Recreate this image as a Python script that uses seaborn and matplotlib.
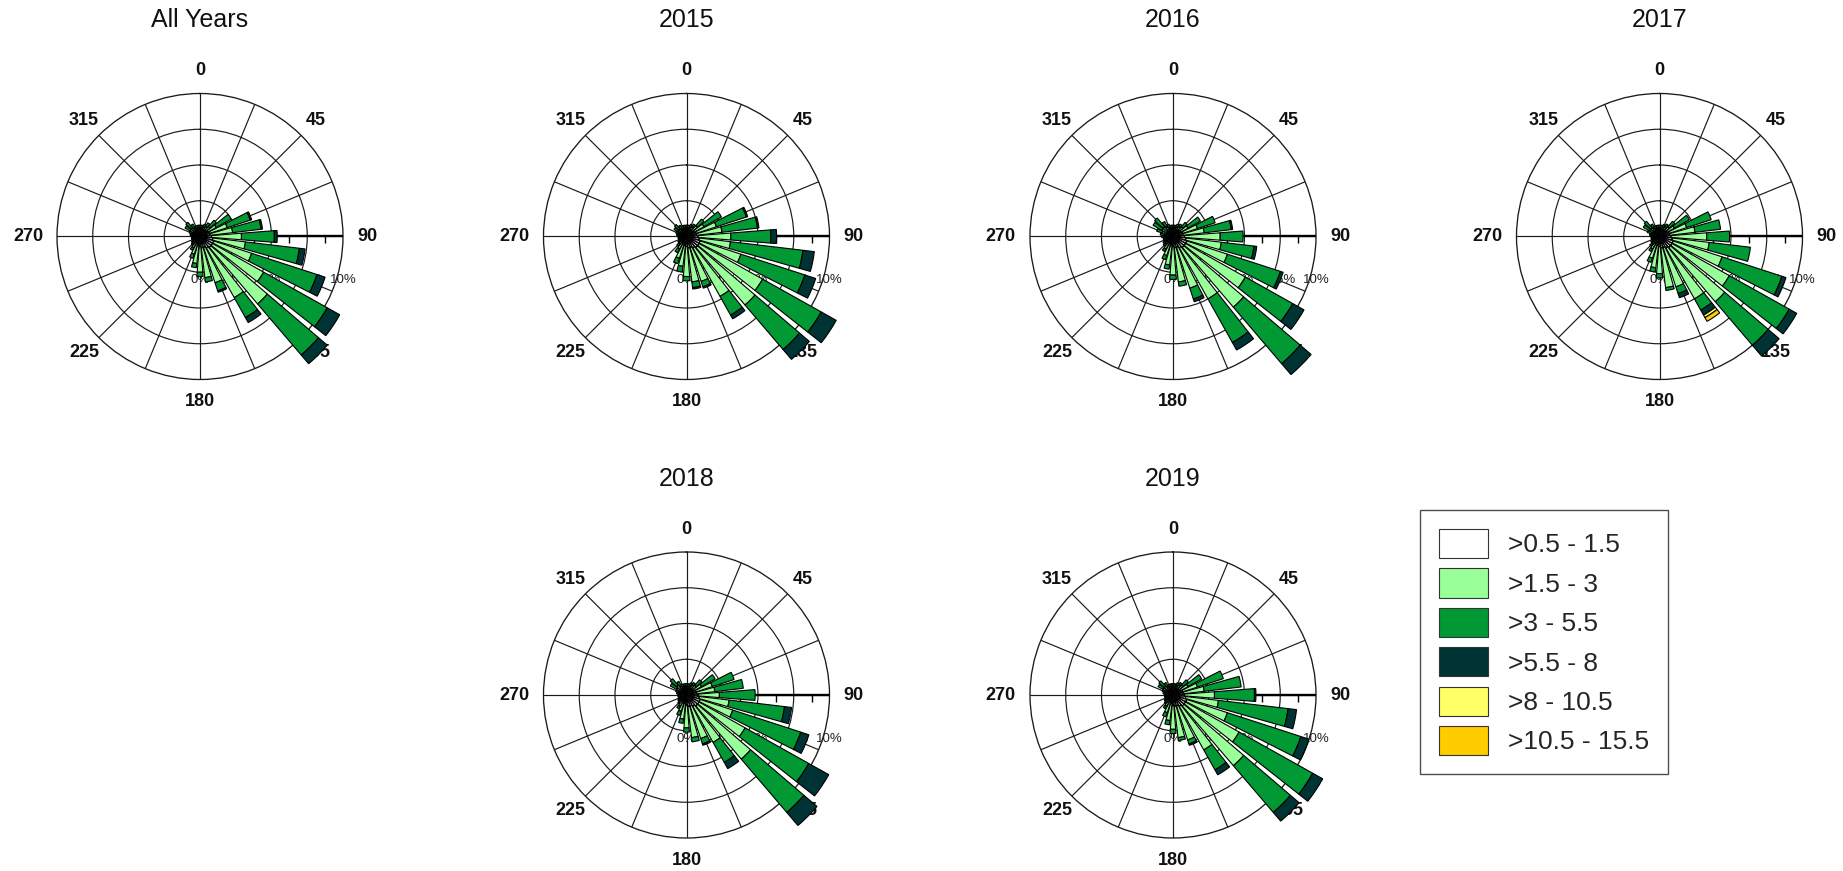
import numpy as np
import matplotlib
matplotlib.use("Agg")
import matplotlib.pyplot as plt
from matplotlib.patches import Patch
import seaborn as sns

# ---------------------------------------------------------------- data
# Sector centres (degrees from north, clockwise), 32 sectors of 11.25 deg
directions = [0.0, 11.25, 22.5, 33.75, 45.0, 56.25, 67.5, 78.75,
              90.0, 101.25, 112.5, 123.75, 135.0, 146.25, 157.5, 168.75,
              180.0, 191.25, 202.5, 213.75, 225.0, 236.25, 247.5, 258.75,
              270.0, 281.25, 292.5, 303.75, 315.0, 326.25, 337.5, 348.75]

speed_classes = [">0.5 - 1.5", ">1.5 - 3", ">3 - 5.5", ">5.5 - 8",
                 ">8 - 10.5", ">10.5 - 15.5"]
class_hex = ["#FFFFFF", "#99FF99", "#009933", "#003333", "#FFFF66", "#FFCC00"]

compass_labels = [0, 45, 90, 135, 180, 225, 270, 315]
ring_values = [2.5, 5.0, 7.5]
scale_labels = [0, 2.5, 5, 7.5, 10]
scale_ticks = [1.25, 3.75, 6.25, 8.75]
r_max = 10

# frequency (%) per sector for each speed class
all_c1 = [0.4, 0.4, 0.4, 0.5, 0.5, 0.6, 0.7, 0.7, 0.8, 0.9, 1.0, 1.0, 1.0, 0.9, 0.8, 0.8,
          0.7, 0.6, 0.5, 0.5, 0.4, 0.4, 0.3, 0.3, 0.3, 0.3, 0.3, 0.4, 0.4, 0.4, 0.4, 0.4]
all_c2 = [0.2, 0.2, 0.3, 0.3, 0.4, 0.7, 1.3, 1.6, 2.1, 2.3, 2.8, 4.1, 5.2, 4.0, 2.6, 2.1,
          1.8, 1.3, 0.8, 0.4, 0.3, 0.2, 0.2, 0.2, 0.2, 0.2, 0.3, 0.4, 0.4, 0.3, 0.2, 0.2]
all_c3 = [0.2, 0.2, 0.2, 0.3, 0.6, 1.2, 1.7, 2.0, 2.3, 3.8, 4.8, 5.1, 4.7, 1.6, 0.6, 0.3,
          0.3, 0.3, 0.3, 0.2, 0.1, 0.1, 0.1, 0.1, 0.1, 0.2, 0.2, 0.4, 0.5, 0.3, 0.2, 0.2]
all_c4 = [0.0, 0.0, 0.0, 0.0, 0.0, 0.0, 0.1, 0.1, 0.2, 0.4, 0.6, 1.0, 0.8, 0.4, 0.1, 0.0,
          0.0, 0.0, 0.0, 0.0, 0.0, 0.0, 0.0, 0.0, 0.0, 0.0, 0.0, 0.0, 0.0, 0.0, 0.0, 0.0]

y2015_c1 = [0.4, 0.4, 0.4, 0.5, 0.5, 0.6, 0.7, 0.7, 0.8, 0.9, 1.0, 1.0, 1.0, 0.9, 0.8, 0.8,
            0.7, 0.6, 0.5, 0.5, 0.4, 0.4, 0.3, 0.3, 0.3, 0.3, 0.3, 0.4, 0.4, 0.4, 0.4, 0.4]
y2015_c2 = [0.2, 0.2, 0.3, 0.3, 0.5, 0.8, 1.5, 1.8, 2.3, 2.2, 3.0, 5.1, 5.3, 3.9, 2.5, 2.4,
            2.1, 1.5, 1.1, 0.5, 0.3, 0.2, 0.2, 0.2, 0.2, 0.2, 0.3, 0.3, 0.3, 0.2, 0.2, 0.2]
y2015_c3 = [0.2, 0.2, 0.2, 0.2, 0.6, 1.4, 2.2, 2.5, 2.8, 5.1, 4.7, 4.7, 4.1, 1.5, 0.4, 0.4,
            0.3, 0.4, 0.4, 0.3, 0.2, 0.1, 0.1, 0.1, 0.1, 0.2, 0.2, 0.3, 0.4, 0.3, 0.2, 0.2]
y2015_c4 = [0.0, 0.0, 0.0, 0.0, 0.0, 0.0, 0.1, 0.1, 0.4, 0.8, 0.8, 1.2, 0.9, 0.3, 0.1, 0.1,
            0.0, 0.0, 0.0, 0.0, 0.0, 0.0, 0.0, 0.0, 0.0, 0.0, 0.0, 0.0, 0.0, 0.0, 0.0, 0.0]

y2016_c1 = [0.4, 0.4, 0.4, 0.5, 0.5, 0.6, 0.7, 0.7, 0.8, 0.9, 1.0, 1.0, 1.0, 0.9, 0.8, 0.8,
            0.7, 0.6, 0.5, 0.5, 0.4, 0.4, 0.3, 0.3, 0.3, 0.3, 0.4, 0.4, 0.4, 0.4, 0.4, 0.4]
y2016_c2 = [0.2, 0.2, 0.3, 0.3, 0.4, 0.6, 1.1, 1.5, 2.5, 2.5, 3.0, 4.8, 5.5, 4.1, 3.0, 2.4,
            2.0, 1.4, 0.9, 0.5, 0.3, 0.2, 0.2, 0.2, 0.3, 0.3, 0.4, 0.5, 0.5, 0.4, 0.2, 0.2]
y2016_c3 = [0.2, 0.2, 0.2, 0.2, 0.4, 1.0, 1.3, 1.9, 1.6, 2.3, 3.9, 3.8, 5.2, 3.5, 0.8, 0.3,
            0.3, 0.3, 0.3, 0.2, 0.2, 0.2, 0.2, 0.2, 0.2, 0.3, 0.4, 0.7, 0.8, 0.4, 0.3, 0.2]
y2016_c4 = [0.0, 0.0, 0.0, 0.0, 0.0, 0.0, 0.0, 0.1, 0.0, 0.2, 0.2, 0.9, 1.0, 0.6, 0.2, 0.0,
            0.0, 0.0, 0.0, 0.0, 0.0, 0.0, 0.0, 0.0, 0.0, 0.0, 0.0, 0.0, 0.0, 0.0, 0.0, 0.0]

y2017_c1 = [0.4, 0.4, 0.4, 0.5, 0.5, 0.6, 0.7, 0.7, 0.8, 0.9, 1.0, 1.0, 1.0, 0.9, 0.8, 0.8,
            0.7, 0.6, 0.5, 0.5, 0.4, 0.4, 0.3, 0.3, 0.3, 0.3, 0.3, 0.4, 0.4, 0.4, 0.4, 0.4]
y2017_c2 = [0.2, 0.2, 0.3, 0.3, 0.4, 0.6, 1.3, 1.8, 2.5, 2.6, 3.6, 4.6, 5.0, 4.1, 2.9, 2.8,
            1.9, 1.6, 1.1, 0.5, 0.3, 0.2, 0.2, 0.2, 0.2, 0.2, 0.3, 0.4, 0.4, 0.3, 0.2, 0.2]
y2017_c3 = [0.2, 0.2, 0.2, 0.2, 0.5, 1.2, 1.8, 1.8, 1.6, 2.9, 4.4, 4.8, 4.0, 0.9, 0.5, 0.2,
            0.3, 0.3, 0.3, 0.2, 0.2, 0.1, 0.1, 0.1, 0.1, 0.2, 0.3, 0.5, 0.6, 0.3, 0.2, 0.2]
y2017_c4 = [0.0, 0.0, 0.0, 0.0, 0.0, 0.0, 0.0, 0.0, 0.0, 0.0, 0.3, 0.6, 1.0, 0.4, 0.3, 0.0,
            0.0, 0.0, 0.0, 0.0, 0.0, 0.0, 0.0, 0.0, 0.0, 0.0, 0.0, 0.0, 0.0, 0.0, 0.0, 0.0]
y2017_c5 = [0.0, 0.0, 0.0, 0.0, 0.0, 0.0, 0.0, 0.0, 0.0, 0.0, 0.0, 0.0, 0.0, 0.2, 0.0, 0.0,
            0.0, 0.0, 0.0, 0.0, 0.0, 0.0, 0.0, 0.0, 0.0, 0.0, 0.0, 0.0, 0.0, 0.0, 0.0, 0.0]
y2017_c6 = [0.0, 0.0, 0.0, 0.0, 0.0, 0.0, 0.0, 0.0, 0.0, 0.0, 0.0, 0.0, 0.0, 0.3, 0.0, 0.0,
            0.0, 0.0, 0.0, 0.0, 0.0, 0.0, 0.0, 0.0, 0.0, 0.0, 0.0, 0.0, 0.0, 0.0, 0.0, 0.0]

y2018_c1 = [0.4, 0.4, 0.4, 0.5, 0.5, 0.6, 0.7, 0.7, 0.8, 0.9, 1.0, 1.0, 1.0, 0.9, 0.8, 0.8,
            0.7, 0.6, 0.5, 0.4, 0.4, 0.4, 0.3, 0.3, 0.3, 0.3, 0.3, 0.4, 0.4, 0.4, 0.4, 0.4]
y2018_c2 = [0.2, 0.2, 0.3, 0.3, 0.4, 0.6, 1.2, 1.3, 1.5, 2.1, 2.4, 3.7, 4.9, 2.9, 2.4, 2.2,
            1.6, 1.1, 0.7, 0.5, 0.3, 0.2, 0.2, 0.2, 0.2, 0.2, 0.3, 0.4, 0.5, 0.3, 0.2, 0.2]
y2018_c3 = [0.2, 0.2, 0.2, 0.2, 0.5, 1.1, 1.6, 2.0, 2.5, 3.9, 5.0, 5.1, 4.9, 1.6, 0.4, 0.3,
            0.3, 0.3, 0.3, 0.2, 0.1, 0.1, 0.1, 0.1, 0.1, 0.2, 0.2, 0.5, 0.6, 0.4, 0.2, 0.2]
y2018_c4 = [0.0, 0.0, 0.0, 0.0, 0.0, 0.0, 0.0, 0.0, 0.0, 0.5, 0.6, 1.6, 1.2, 0.5, 0.1, 0.0,
            0.0, 0.0, 0.0, 0.0, 0.0, 0.0, 0.0, 0.0, 0.0, 0.0, 0.0, 0.0, 0.0, 0.0, 0.0, 0.0]

y2019_c1 = [0.4, 0.4, 0.4, 0.5, 0.5, 0.6, 0.7, 0.7, 0.8, 0.9, 1.0, 1.0, 1.0, 0.9, 0.8, 0.8,
            0.7, 0.6, 0.5, 0.4, 0.4, 0.4, 0.3, 0.3, 0.3, 0.3, 0.3, 0.4, 0.4, 0.4, 0.4, 0.4]
y2019_c2 = [0.2, 0.2, 0.3, 0.3, 0.4, 0.6, 1.1, 1.5, 2.1, 2.3, 3.0, 4.3, 5.5, 3.5, 2.5, 2.2,
            1.7, 1.2, 0.8, 0.5, 0.3, 0.2, 0.2, 0.2, 0.2, 0.2, 0.3, 0.4, 0.4, 0.3, 0.2, 0.2]
y2019_c3 = [0.2, 0.2, 0.2, 0.2, 0.5, 1.1, 1.9, 2.6, 2.8, 4.9, 5.4, 5.9, 4.3, 1.6, 0.3, 0.2,
            0.3, 0.3, 0.3, 0.2, 0.1, 0.1, 0.1, 0.1, 0.1, 0.2, 0.2, 0.4, 0.5, 0.3, 0.2, 0.2]
y2019_c4 = [0.0, 0.0, 0.0, 0.0, 0.0, 0.0, 0.0, 0.0, 0.1, 0.6, 0.6, 0.8, 0.8, 0.4, 0.1, 0.0,
            0.0, 0.0, 0.0, 0.0, 0.0, 0.0, 0.0, 0.0, 0.0, 0.0, 0.0, 0.0, 0.0, 0.0, 0.0, 0.0]

panels = [
    ("All Years", [all_c1, all_c2, all_c3, all_c4]),
    ("2015", [y2015_c1, y2015_c2, y2015_c3, y2015_c4]),
    ("2016", [y2016_c1, y2016_c2, y2016_c3, y2016_c4]),
    ("2017", [y2017_c1, y2017_c2, y2017_c3, y2017_c4, y2017_c5, y2017_c6]),
    ("2018", [y2018_c1, y2018_c2, y2018_c3, y2018_c4]),
    ("2019", [y2019_c1, y2019_c2, y2019_c3, y2019_c4]),
]

# ---------------------------------------------------------------- style
sns.set_style("white")
plt.rcParams["font.family"] = ["Liberation Sans", "DejaVu Sans"]
plt.rcParams["axes.axisbelow"] = True
class_colors = sns.color_palette(class_hex)

W, H, DPI = 1843, 871, 100
R = 143                      # radius of the 10 % circle in pixels
PT = 72.0 / DPI              # pixels -> points
centers = [(200, 236.5), (686.5, 236.5), (1173, 236.5), (1659.5, 236.5),
           (686.5, 695), (1173, 695)]

fig = plt.figure(figsize=(W / DPI, H / DPI), dpi=DPI)
fig.patch.set_facecolor("white")

theta = np.deg2rad(directions)
bar_width = np.deg2rad(11.25 * 0.8)

for (title, series), (cx, cy) in zip(panels, centers):
    ax = fig.add_axes([(cx - R) / W, 1 - (cy + R) / H, 2 * R / W, 2 * R / H],
                      projection="polar")
    ax.set_theta_zero_location("N")
    ax.set_theta_direction(-1)
    ax.set_ylim(0, r_max)
    ax.set_facecolor("white")

    # spokes every 22.5 deg, rings every 2.5 %
    ax.set_xticks(np.deg2rad(np.arange(0, 360, 22.5)))
    ax.set_xticklabels([])
    ax.set_yticks(ring_values)
    ax.set_yticklabels([])
    ax.tick_params(length=0)
    ax.grid(True, color="#1a1a1a", linewidth=0.85)
    ax.spines["polar"].set_color("#1a1a1a")
    ax.spines["polar"].set_linewidth(0.95)
    ax.spines["polar"].set_zorder(0.6)

    # speed scale along the east axis
    ax.plot([np.pi / 2, np.pi / 2], [0, r_max], color="black", lw=1.7, zorder=0.7)
    ax.plot([np.pi / 2] * len(scale_ticks), scale_ticks, ls="none", marker=3,
            ms=5, mew=1.0, color="black", zorder=0.7, clip_on=False)
    for v in scale_labels:
        ax.annotate(f"{v:g}%", xy=(np.pi / 2, v), xycoords="data",
                    xytext=(0, -44 * PT), textcoords="offset points",
                    ha="center", va="center", fontsize=9.5, color="#222222",
                    zorder=0.8, annotation_clip=False)

    # compass labels
    for deg in compass_labels:
        t = np.deg2rad(deg)
        s, c = np.sin(t), np.cos(t)
        if deg % 90 == 0:
            off = 14
            ha = "center" if abs(s) < 0.1 else ("left" if s > 0 else "right")
            va = "center" if abs(c) < 0.1 else ("bottom" if c > 0 else "top")
        else:
            off = 21
            ha, va = "center", "center"
        ax.annotate(str(deg), xy=(t, r_max), xycoords="data",
                    xytext=(off * s * PT, off * c * PT), textcoords="offset points",
                    ha=ha, va=va, fontsize=13, fontweight="bold", color="#111111",
                    zorder=0.8, annotation_clip=False)

    # stacked wind-rose bars
    bottom = np.zeros(len(directions))
    for k, vals in enumerate(series):
        vals = np.asarray(vals, dtype=float)
        m = vals > 0
        if m.any():
            ax.bar(theta[m], vals[m], width=bar_width, bottom=bottom[m],
                   color=class_colors[k], edgecolor="black", linewidth=0.8,
                   zorder=2, clip_on=False)
        bottom += vals

    ax.text(0.5, 1 + (216.5 - R) / (2 * R), title, transform=ax.transAxes,
            ha="center", va="center", fontsize=18, color="#111111")

# legend
handles = [Patch(facecolor=col, edgecolor="#333333", linewidth=0.8, label=lab)
           for col, lab in zip(class_colors, speed_classes)]
leg = fig.legend(handles=handles, loc="upper left",
                 bbox_to_anchor=(1420 / W, 1 - 510 / H),
                 bbox_transform=fig.transFigure, frameon=True, fancybox=False,
                 shadow=False, fontsize=19, handlelength=1.86, handleheight=1.32,
                 handletextpad=0.76, labelspacing=0.39, borderpad=0.72,
                 borderaxespad=0)
leg.get_frame().set_edgecolor("#222222")
leg.get_frame().set_linewidth(1.0)

fig.savefig("out.png", dpi=DPI, facecolor="white")
